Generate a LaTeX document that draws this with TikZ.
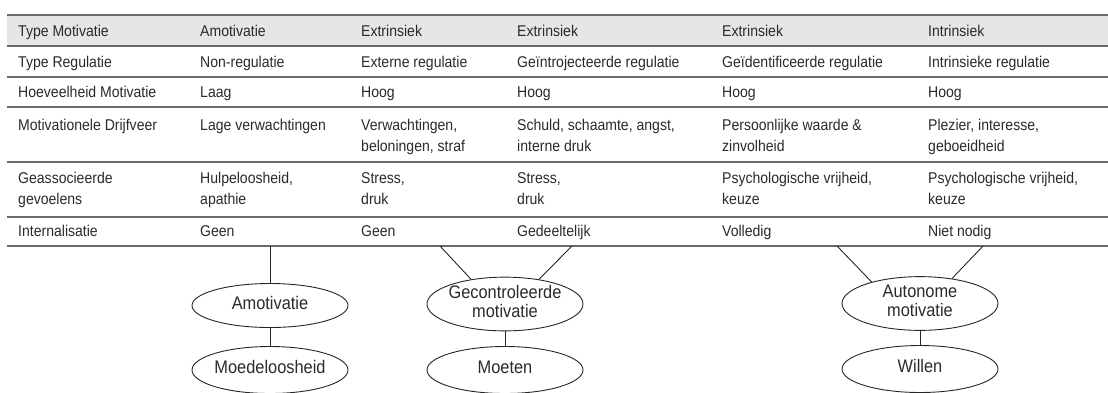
\documentclass[tikz,border=0pt]{standalone}
\usepackage{fontspec}
\setmainfont[FakeStretch=0.9]{Liberation Sans}
\usetikzlibrary{shapes.geometric}
\definecolor{txt}{HTML}{2A2A2A}
\definecolor{rulecol}{HTML}{6A6A6A}
\definecolor{headfill}{HTML}{E6E6E6}
\newcommand\tabfont{\fontsize{15.6}{21}\selectfont}
\newcommand\ellfont{\fontsize{18.2}{19}\selectfont}
\newcommand\ecbox[1]{\makebox[0pt]{\begin{tabular}{@{}c@{}}#1\end{tabular}}}
\begin{document}
\begin{tikzpicture}[x=1pt,y=-1pt,
  cell/.style={anchor=north west, inner sep=0pt, align=left, font=\tabfont, text=txt},
  rulel/.style={draw=rulecol, line width=1.7pt},
  ell/.style={ellipse, draw=black!85, line width=0.9pt, minimum width=156pt, minimum height=44pt, inner sep=0pt, font=\ellfont, text=txt},
  conn/.style={draw=black!85, line width=0.9pt}]
\useasboundingbox (0,0) rectangle (1108,392);
% header shading
\fill[headfill] (7,15) rectangle (1108,46);
% rules
\foreach \yy in {15,46,77,107,162,217,246} \draw[rulel] (7,\yy) -- (1108,\yy);
% row 1
\node[cell] (r1c1) at (18,21.3) {\strut Type Motivatie};
\node[cell] (r1c2) at (200,21.3) {\strut Amotivatie};
\node[cell] (r1c3) at (361,21.3) {\strut Extrinsiek};
\node[cell] (r1c4) at (517,21.3) {\strut Extrinsiek};
\node[cell] (r1c5) at (722,21.3) {\strut Extrinsiek};
\node[cell] (r1c6) at (928,21.3) {\strut Intrinsiek};
% row 2
\node[cell] (r2c1) at (18,52.3) {\strut Type Regulatie};
\node[cell] (r2c2) at (200,52.3) {\strut Non-regulatie};
\node[cell] (r2c3) at (361,52.3) {\strut Externe regulatie};
\node[cell] (r2c4) at (517,52.3) {\strut Geïntrojecteerde regulatie};
\node[cell] (r2c5) at (722,52.3) {\strut Geïdentificeerde regulatie};
\node[cell] (r2c6) at (928,52.3) {\strut Intrinsieke regulatie};
% row 3
\node[cell] (r3c1) at (18,82.3) {\strut Hoeveelheid Motivatie};
\node[cell] (r3c2) at (200,82.3) {\strut Laag};
\node[cell] (r3c3) at (361,82.3) {\strut Hoog};
\node[cell] (r3c4) at (517,82.3) {\strut Hoog};
\node[cell] (r3c5) at (722,82.3) {\strut Hoog};
\node[cell] (r3c6) at (928,82.3) {\strut Hoog};
% row 4
\node[cell] (r4c1) at (18,115.3) {\strut Motivationele Drijfveer};
\node[cell] (r4c2) at (200,115.3) {\strut Lage verwachtingen};
\node[cell] (r4c3) at (361,115.3) {\strut Verwachtingen,\\\strut beloningen, straf};
\node[cell] (r4c4) at (517,115.3) {\strut Schuld, schaamte, angst,\\\strut interne druk};
\node[cell] (r4c5) at (722,115.3) {\strut Persoonlijke waarde \&\\\strut zinvolheid};
\node[cell] (r4c6) at (928,115.3) {\strut Plezier, interesse,\\\strut geboeidheid};
% row 5
\node[cell] (r5c1) at (18,168.3) {\strut Geassocieerde\\\strut gevoelens};
\node[cell] (r5c2) at (200,168.3) {\strut Hulpeloosheid,\\\strut apathie};
\node[cell] (r5c3) at (361,168.3) {\strut Stress,\\\strut druk};
\node[cell] (r5c4) at (517,168.3) {\strut Stress,\\\strut druk};
\node[cell] (r5c5) at (722,168.3) {\strut Psychologische vrijheid,\\\strut keuze};
\node[cell] (r5c6) at (928,168.3) {\strut Psychologische vrijheid,\\\strut keuze};
% row 6
\node[cell] (r6c1) at (18,221.3) {\strut Internalisatie};
\node[cell] (r6c2) at (200,221.3) {\strut Geen};
\node[cell] (r6c3) at (361,221.3) {\strut Geen};
\node[cell] (r6c4) at (517,221.3) {\strut Gedeeltelijk};
\node[cell] (r6c5) at (722,221.3) {\strut Volledig};
\node[cell] (r6c6) at (928,221.3) {\strut Niet nodig};
% ellipses
\node[ell] (amo) at (270,305.5) {\ecbox{Amotivatie}};
\node[ell, minimum height=47pt] (moe) at (270,370) {\ecbox{Moedeloosheid}};
\node[ell, minimum height=52pt] (gec) at (505,304) {\ecbox{Gecontroleerde\\motivatie}};
\node[ell, minimum height=47pt] (mot) at (505,370) {\ecbox{Moeten}};
\node[ell, minimum height=53pt] (aut) at (920,303.5) {\ecbox{Autonome\\motivatie}};
\node[ell, minimum height=47pt] (wil) at (920,369) {\ecbox{Willen}};
% anchor points on the table's bottom rule
\coordinate (a0) at (270,246);
\coordinate (g1) at (440,246);
\coordinate (g2) at (572,246);
\coordinate (u1) at (837,246);
\coordinate (u2) at (983,246);
% connectors
\draw[conn] (a0) -- (amo.north);
\draw[conn] (amo.south) -- (moe.north);
\draw[conn] (g1) -- (gec.144);
\draw[conn] (g2) -- (gec.36);
\draw[conn] (gec.south) -- (mot.north);
\draw[conn] (u1) -- (aut.156);
\draw[conn] (u2) -- (aut.38);
\draw[conn] (aut.south) -- (wil.north);
\end{tikzpicture}
\end{document}
